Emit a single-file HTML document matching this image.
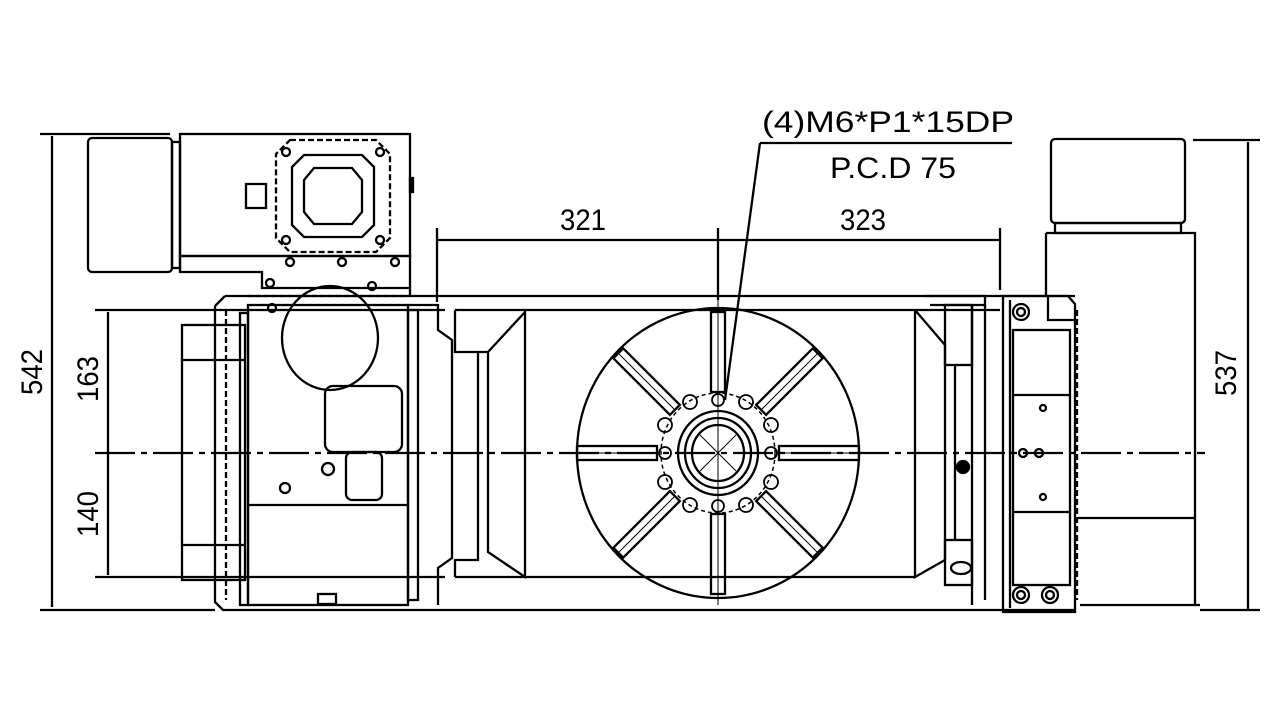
<!DOCTYPE html>
<html><head><meta charset="utf-8"><style>
html,body{margin:0;padding:0;background:#fff}
svg{display:block}
text{font-family:"Liberation Sans",sans-serif;fill:#000}
</style></head><body>
<svg width="1280" height="720" viewBox="0 0 1280 720" fill="none" stroke="#000" stroke-width="2.3">
<!-- overall dims left -->
<line x1="40" y1="134" x2="170" y2="134"/>
<line x1="52" y1="136" x2="52" y2="607"/>
<line x1="40" y1="610" x2="215" y2="610"/>
<line x1="95" y1="310" x2="445" y2="310"/>
<line x1="95" y1="577" x2="445" y2="577"/>
<line x1="108" y1="312" x2="108" y2="575"/>
<line x1="95" y1="453" x2="1205" y2="453" stroke-dasharray="40,6,6,6"/>
<text x="0" y="0" font-size="30" stroke="none" textLength="46" lengthAdjust="spacingAndGlyphs" transform="translate(42,395) rotate(-90)">542</text>
<text x="0" y="0" font-size="30" stroke="none" textLength="46" lengthAdjust="spacingAndGlyphs" transform="translate(98,402) rotate(-90)">163</text>
<text x="0" y="0" font-size="30" stroke="none" textLength="46" lengthAdjust="spacingAndGlyphs" transform="translate(98,537) rotate(-90)">140</text>
<!-- left motor -->
<rect x="88" y="138" width="84" height="134" rx="4"/>
<rect x="172" y="142" width="8" height="126"/>
<rect x="180" y="134" width="230" height="122"/>
<path d="M290 140 L376 140 L390 154 L390 238 L376 252 L290 252 L276 238 L276 154 Z" stroke-dasharray="6,3"/>
<path d="M304 155 L362 155 L374 167 L374 225 L362 237 L304 237 L292 225 L292 167 Z"/>
<path d="M314 168 L352 168 L362 180 L362 212 L352 224 L314 224 L304 212 L304 180 Z"/>
<circle cx="286" cy="152" r="4"/><circle cx="380" cy="152" r="4"/><circle cx="286" cy="240" r="4"/><circle cx="380" cy="240" r="4"/>
<rect x="246" y="184" width="20" height="24"/>
<rect x="410" y="178" width="3" height="14" fill="#000"/>
<path d="M180 256 L410 256 L410 296 M180 256 L180 272 L262 272 L262 288 L410 288"/>
<circle cx="290" cy="262" r="4"/><circle cx="342" cy="262" r="4"/><circle cx="395" cy="262" r="4"/>
<circle cx="270" cy="283" r="4"/><circle cx="372" cy="286" r="4"/><circle cx="272" cy="308" r="4"/>
<!-- left body -->
<path d="M225 296 L1075 296 M215 306 L225 296 M215 306 L215 602 L223 610 L1075 610"/>
<line x1="248" y1="296" x2="410" y2="296" stroke-dasharray="5,3"/>
<rect x="248" y="305" width="160" height="300"/>
<rect x="240" y="313" width="8" height="292"/>
<line x1="226" y1="310" x2="226" y2="600" stroke-dasharray="6,3"/>
<rect x="182" y="325" width="63" height="255"/>
<line x1="182" y1="360" x2="245" y2="360"/><line x1="182" y1="545" x2="245" y2="545"/>
<ellipse cx="330" cy="338" rx="48" ry="52"/>
<rect x="325" y="386" width="77" height="66" rx="8"/>
<rect x="346" y="452" width="36" height="48" rx="6"/>
<circle cx="328" cy="469" r="6"/><circle cx="285" cy="488" r="5"/>
<line x1="248" y1="505" x2="408" y2="505"/>
<rect x="318" y="594" width="18" height="10"/>
<!-- transition -->
<path d="M408 305 L438 305 L438 330 L452 340 L452 558 L438 568 L438 605"/>
<rect x="408" y="310" width="10" height="290"/>
<path d="M455 310 L455 352 L478 352 L478 560 L455 560 L455 577"/>
<path d="M478 352 L488 352 L525 312 M488 352 L488 552 L525 577 L525 310"/>
<line x1="455" y1="577" x2="915" y2="577"/>
<line x1="455" y1="310" x2="1000" y2="310"/>
<!-- right side of center -->
<path d="M915 310 L945 345 L945 560 L915 577 L915 310"/>
<path d="M925 296 L985 296 L985 305 L930 305"/>
<rect x="945" y="305" width="27" height="60"/>
<rect x="945" y="540" width="27" height="45"/>
<line x1="955" y1="365" x2="955" y2="540"/>
<line x1="972" y1="305" x2="972" y2="605"/>
<line x1="985" y1="305" x2="985" y2="600"/>
<circle cx="963" cy="467" r="6" fill="#000"/>
<ellipse cx="961" cy="568" rx="10" ry="6"/>
<!-- rotary table -->
<ellipse cx="718" cy="453" rx="141" ry="145"/>
<line x1="718" y1="300" x2="718" y2="605" stroke-width="1"/>
<g>
<g transform="rotate(0 718 453)"><rect x="711" y="312" width="14" height="80"/><line x1="718" y1="312" x2="718" y2="392" stroke-width="1"/></g>
<g transform="rotate(45 718 453)"><rect x="711" y="312" width="14" height="80"/><line x1="718" y1="312" x2="718" y2="392" stroke-width="1"/></g>
<g transform="rotate(90 718 453)"><rect x="711" y="312" width="14" height="80"/><line x1="718" y1="312" x2="718" y2="392" stroke-width="1"/></g>
<g transform="rotate(135 718 453)"><rect x="711" y="312" width="14" height="80"/><line x1="718" y1="312" x2="718" y2="392" stroke-width="1"/></g>
<g transform="rotate(180 718 453)"><rect x="711" y="312" width="14" height="80"/><line x1="718" y1="312" x2="718" y2="392" stroke-width="1"/></g>
<g transform="rotate(225 718 453)"><rect x="711" y="312" width="14" height="80"/><line x1="718" y1="312" x2="718" y2="392" stroke-width="1"/></g>
<g transform="rotate(270 718 453)"><rect x="711" y="312" width="14" height="80"/><line x1="718" y1="312" x2="718" y2="392" stroke-width="1"/></g>
<g transform="rotate(315 718 453)"><rect x="711" y="312" width="14" height="80"/><line x1="718" y1="312" x2="718" y2="392" stroke-width="1"/></g>
</g>
<ellipse cx="718" cy="453" rx="57" ry="60" stroke-dasharray="4,3" stroke-width="1.5"/>
<ellipse cx="718" cy="453" rx="40" ry="42"/>
<ellipse cx="718" cy="453" rx="33" ry="35"/>
<ellipse cx="718" cy="453" rx="26" ry="28"/>
<line x1="700" y1="435" x2="736" y2="471" stroke-width="1"/><line x1="736" y1="435" x2="700" y2="471" stroke-width="1"/>
<g stroke-width="1.8">
<circle cx="690" cy="402" r="7"/><circle cx="746" cy="402" r="7"/>
<circle cx="665" cy="425" r="7"/><circle cx="771" cy="425" r="7"/>
<circle cx="665" cy="482" r="7"/><circle cx="771" cy="482" r="7"/>
<circle cx="690" cy="505" r="7"/><circle cx="746" cy="505" r="7"/>
<circle cx="718" cy="400" r="6"/><circle cx="718" cy="506" r="6"/>
<circle cx="665" cy="453" r="6"/><circle cx="771" cy="453" r="6"/>
</g>
<!-- right end block -->
<path d="M1003 296 L1068 296 L1075 304 L1075 612 L1003 612 Z"/>
<line x1="1010" y1="300" x2="1010" y2="608"/>
<line x1="1077" y1="310" x2="1077" y2="600" stroke-dasharray="6,3"/>
<rect x="1013" y="330" width="57" height="255"/>
<line x1="1013" y1="395" x2="1070" y2="395"/><line x1="1013" y1="512" x2="1070" y2="512"/>
<circle cx="1021" cy="312" r="8"/><circle cx="1021" cy="312" r="4"/>
<circle cx="1021" cy="595" r="8"/><circle cx="1021" cy="595" r="4"/>
<circle cx="1050" cy="595" r="8"/><circle cx="1050" cy="595" r="4"/>
<circle cx="1043" cy="408" r="3"/><circle cx="1043" cy="497" r="3"/>
<circle cx="1023" cy="453" r="4"/><circle cx="1039" cy="453" r="4"/>
<path d="M1048 296 L1048 320 L1075 320"/>
<!-- right motor -->
<rect x="1051" y="139" width="134" height="84" rx="4"/>
<rect x="1055" y="223" width="126" height="10"/>
<path d="M1046 233 L1195 233 L1195 605 M1046 233 L1046 296"/>
<line x1="1077" y1="518" x2="1195" y2="518"/>
<line x1="1080" y1="605" x2="1200" y2="605"/>
<line x1="1193" y1="140" x2="1260" y2="140"/>
<line x1="1248" y1="142" x2="1248" y2="610"/>
<line x1="1200" y1="610" x2="1260" y2="610"/>
<text x="0" y="0" font-size="30" stroke="none" textLength="46" lengthAdjust="spacingAndGlyphs" transform="translate(1236,396) rotate(-90)">537</text>
<!-- top dims -->
<line x1="437" y1="228" x2="437" y2="302"/>
<line x1="1000" y1="228" x2="1000" y2="290"/>
<line x1="718" y1="228" x2="718" y2="300"/>
<line x1="437" y1="240" x2="1000" y2="240"/>
<text x="560" y="230" font-size="30" stroke="none" textLength="46" lengthAdjust="spacingAndGlyphs">321</text>
<text x="840" y="230" font-size="30" stroke="none" textLength="46" lengthAdjust="spacingAndGlyphs">323</text>
<line x1="760" y1="143" x2="1012" y2="143"/>
<line x1="760" y1="143" x2="725" y2="400"/>
<text x="762" y="132" font-size="30" stroke="none" textLength="252" lengthAdjust="spacingAndGlyphs">(4)M6*P1*15DP</text>
<text x="830" y="178" font-size="30" stroke="none" textLength="126" lengthAdjust="spacingAndGlyphs">P.C.D 75</text>
</svg>
</body></html>
